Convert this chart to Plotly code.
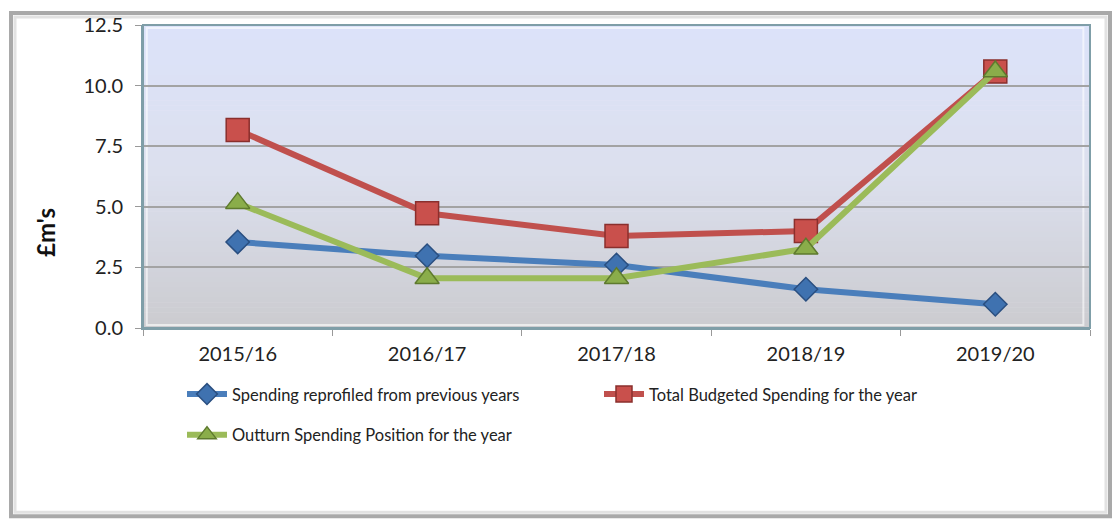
import plotly.graph_objects as go

# ---- data ----
years = ["2015/16", "2016/17", "2017/18", "2018/19", "2019/20"]
reprofiled = [3.55, 2.98, 2.6, 1.6, 0.98]
budgeted = [8.17, 4.73, 3.8, 4.0, 10.58]
outturn = [5.15, 2.05, 2.05, 3.27, 10.58]
y_ticks = [0.0, 2.5, 5.0, 7.5, 10.0, 12.5]
y_tick_labels = ["0.0", "2.5", "5.0", "7.5", "10.0", "12.5"]
y_title = "£m's"

W, H = 1119, 522
L, R, T, B = 143, 29, 22, 194
PW, PH = W - L - R, H - T - B


def px_x(px):
    return (px - L) / PW


def px_y(py):
    return (H - B - py) / PH


FONT = "Lato"
fig = go.Figure()

fig.add_trace(go.Scatter(
    x=years, y=reprofiled, mode="lines+markers",
    name="Spending reprofiled from previous years",
    line=dict(color="#4a7ebb", width=6),
    marker=dict(symbol="diamond", size=18, color="#3f72b0",
                line=dict(color="#2a4f80", width=1.5)),
    legend="legend",
))
fig.add_trace(go.Scatter(
    x=years, y=budgeted, mode="lines+markers",
    name="Total Budgeted Spending for the year",
    line=dict(color="#c0504d", width=6),
    marker=dict(symbol="square", size=23, color="#c9504c",
                line=dict(color="#8a2f2d", width=1.5)),
    legend="legend",
))
fig.add_trace(go.Scatter(
    x=years, y=outturn, mode="lines+markers",
    name="Outturn Spending Position for the year",
    line=dict(color="#9bbb59", width=6),
    marker=dict(symbol="triangle-up", size=21, color="#8aad4a",
                line=dict(color="#5e7a2e", width=1.5)),
    legend="legend2",
))

shapes = []
# gradient plot background (light blue top -> grey bottom)
N = 60
top = (220, 227, 250)
mid = (220, 224, 238)
bot = (204, 204, 208)
for i in range(N):
    f = i / (N - 1)
    if f < 0.5:
        g = f / 0.5
        c = tuple(int(top[k] + (mid[k] - top[k]) * g) for k in range(3))
    else:
        g = (f - 0.5) / 0.5
        c = tuple(int(mid[k] + (bot[k] - mid[k]) * g) for k in range(3))
    shapes.append(dict(type="rect", xref="paper", yref="paper",
                       x0=0, x1=1, y0=1 - (i + 1) / N, y1=1 - i / N + 0.002,
                       fillcolor="rgb(%d,%d,%d)" % c, line=dict(width=0),
                       layer="below"))
# plot area bevel / border
shapes.append(dict(type="rect", xref="paper", yref="paper",
                   x0=0.004, x1=0.993, y0=0.01, y1=0.99,
                   line=dict(color="rgba(255,255,255,0.6)", width=2),
                   fillcolor="rgba(0,0,0,0)", layer="below"))
shapes.append(dict(type="rect", xref="paper", yref="paper",
                   x0=0, x1=1, y0=0, y1=1,
                   line=dict(color="#7f9ea8", width=2),
                   fillcolor="rgba(0,0,0,0)", layer="above"))
# outer frame
shapes.append(dict(type="rect", xref="paper", yref="paper",
                   x0=px_x(11), x1=px_x(1110), y0=px_y(518), y1=px_y(10),
                   line=dict(color="#a9a9a9", width=4),
                   fillcolor="rgba(0,0,0,0)", layer="below"))
shapes.append(dict(type="rect", xref="paper", yref="paper",
                   x0=px_x(15), x1=px_x(1106), y0=px_y(514), y1=px_y(14),
                   line=dict(color="#e2e2e2", width=3),
                   fillcolor="rgba(0,0,0,0)", layer="below"))

fig.update_layout(
    width=W, height=H,
    margin=dict(l=L, r=R, t=T, b=B),
    paper_bgcolor="white",
    plot_bgcolor="rgba(0,0,0,0)",
    font=dict(family=FONT, color="#222222"),
    shapes=shapes,
    showlegend=True,
    legend=dict(orientation="h", x=px_x(182), xanchor="left",
                y=px_y(395), yanchor="middle",
                entrywidth=362, entrywidthmode="pixels",
                font=dict(family=FONT, size=16.5, color="#222222"),
                bgcolor="rgba(0,0,0,0)", itemwidth=40),
    legend2=dict(orientation="h", x=px_x(182), xanchor="left",
                 y=px_y(436), yanchor="middle",
                 font=dict(family=FONT, size=16.5, color="#222222"),
                 bgcolor="rgba(0,0,0,0)", itemwidth=40),
    annotations=[dict(text="<b>" + y_title + "</b>", xref="paper", yref="paper",
                      x=px_x(46), y=px_y(232), xanchor="center", yanchor="middle",
                      textangle=-90, showarrow=False,
                      font=dict(family=FONT, size=24, color="#111111"))],
    xaxis=dict(
        type="category", range=[-0.5, 4.5],
        showgrid=False, showline=True, linecolor="#7f9ea8", linewidth=2,
        ticks="outside", tickson="boundaries", ticklen=6, tickcolor="#999999",
        tickfont=dict(family=FONT, size=20, color="#222222"),
        ticklabelstandoff=7,
        zeroline=False,
    ),
    yaxis=dict(
        range=[0, 12.5], tickvals=y_ticks, ticktext=y_tick_labels,
        showgrid=True, gridcolor="#a3a3a3", gridwidth=1.5,
        showline=True, linecolor="#7f9ea8", linewidth=2,
        ticks="outside", ticklen=6, tickcolor="#999999",
        tickfont=dict(family=FONT, size=20, color="#222222"),
        ticklabelstandoff=8,
        zeroline=False,
    ),
)

fig.write_html("out.html")
